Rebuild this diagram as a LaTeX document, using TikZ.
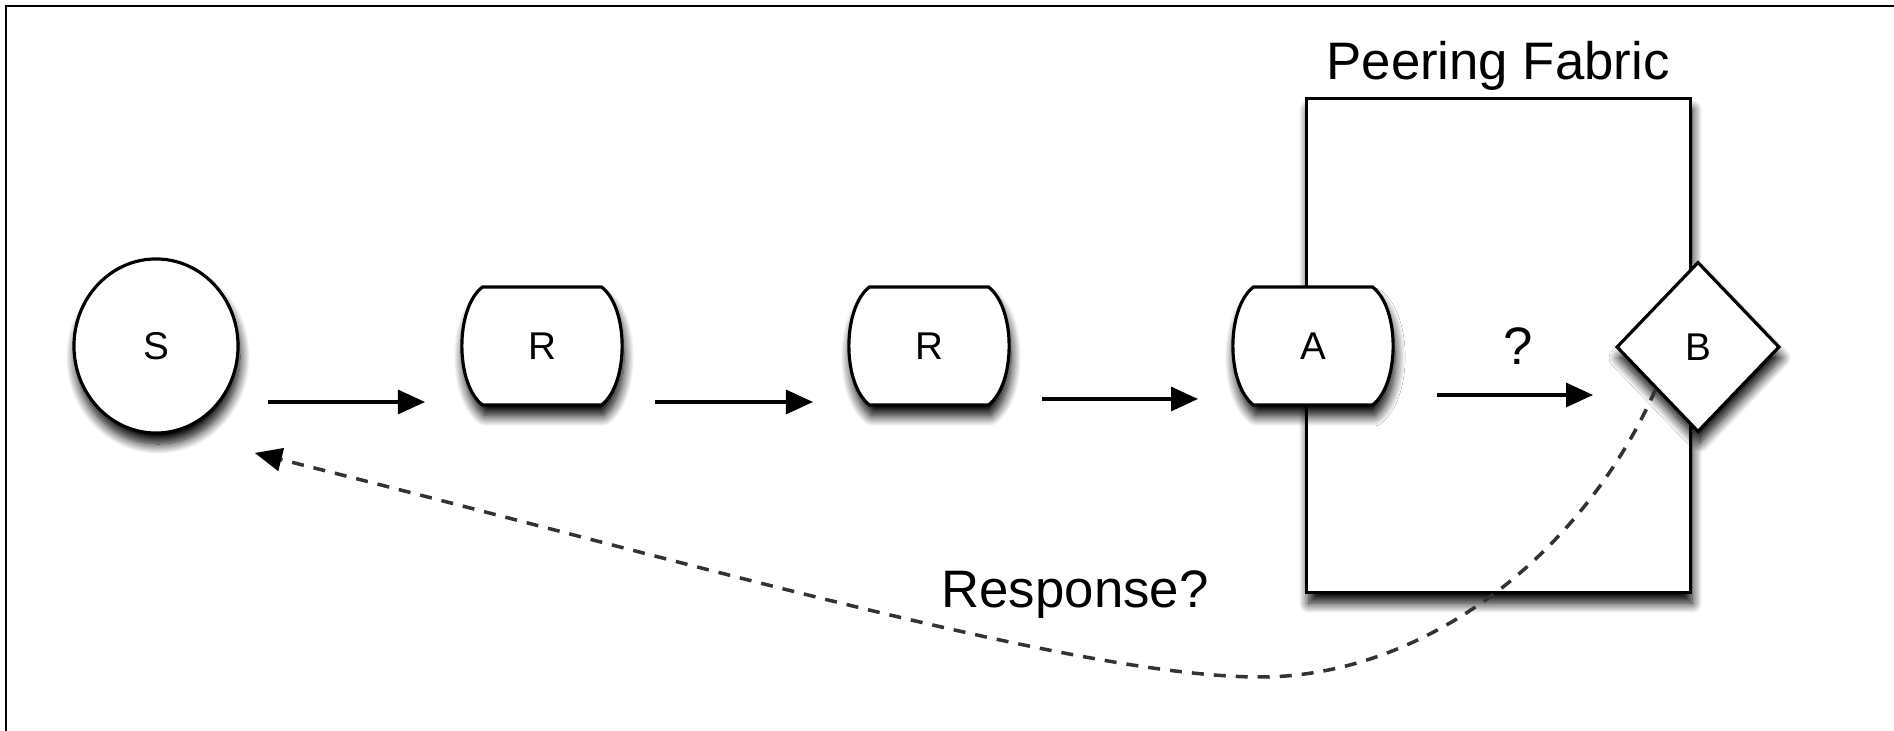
\documentclass[tikz,border=0pt]{standalone}
\usepackage{fontspec}
\setmainfont{Liberation Sans}
\usetikzlibrary{arrows.meta,shapes.geometric,shadows.blur}
\tikzset{
  shp/.style={draw=black, line width=0.9pt, fill=white,
    blur shadow={shadow xshift=0.02cm, shadow yshift=-0.11cm, shadow blur radius=0.1cm, shadow opacity=100, shadow blur steps=12}},
  lbl/.style={font=\fontsize{11}{13}\selectfont, inner sep=0pt},
  bigtxt/.style={font=\fontsize{15}{18}\selectfont, inner sep=0pt},
  flow/.style={line width=0.9pt, black, -{Triangle[length=0.27cm,width=0.24cm,fill=black]}},
  resp/.style={line width=1pt, black!80, dash pattern=on 0.12cm off 0.10cm,
    -{Triangle[length=0.27cm,width=0.24cm,black,line width=0pt]}},
  frameline/.style={line width=0.8pt, black}
}
\newcommand\routerbox[4]{%
  \path[shp] (#2-59.5,#3+59) -- (#2+59.5,#3+59)
    .. controls (#2+87,#3+38) and (#2+87,#3-38) .. (#2+59.5,#3-59)
    -- (#2-59.5,#3-59)
    .. controls (#2-87,#3-38) and (#2-87,#3+38) .. (#2-59.5,#3+59) -- cycle;
  \node[lbl, minimum width=1.61cm, minimum height=1.18cm] (#1) at (#2,#3) {#4};}
\begin{document}
\begin{tikzpicture}[x=0.01cm,y=0.01cm]
\useasboundingbox (0,0) rectangle (1894,731);
% outer frame (only left and top edges visible)
\coordinate (fbl) at (6,0);
\coordinate (ftl) at (6,725);
\coordinate (ftr) at (1894,725);
\draw[frameline] (fbl) -- (ftl) -- (ftr);
% peering fabric
\node[shp, draw, minimum width=3.83cm, minimum height=4.93cm, inner sep=0pt] (pf) at (1498.5,385.5) {};
\node[bigtxt, anchor=base] (pflbl) at (1498,651) {Peering Fabric};
% nodes
\node[shp, ellipse, minimum width=1.64cm, minimum height=1.74cm, inner sep=0pt, lbl] (S) at (156,385) {S};
\routerbox{r1}{542}{385}{R}
\routerbox{r2}{929}{385}{R}
\routerbox{A}{1313}{385}{A}
\node[shp, diamond, minimum width=1.63cm, minimum height=1.70cm, inner sep=0pt, lbl] (B) at (1698,384) {B};
% flow arrows
\coordinate (a1s) at (268,329); \coordinate (a1e) at (425,329);
\coordinate (a2s) at (655,329); \coordinate (a2e) at (813,329);
\coordinate (a3s) at (1042,332); \coordinate (a3e) at (1198,332);
\coordinate (a4s) at (1437,336); \coordinate (a4e) at (1593,336);
\draw[flow] (a1s) -- (a1e);
\draw[flow] (a2s) -- (a2e);
\draw[flow] (a3s) -- (a3e);
\draw[flow] (a4s) -- (a4e);
\node[bigtxt] (q) at (1518,385) {?};
% response
\coordinate (ret) at (255,278);
\draw[resp] (B.225) .. controls (1580,171) and (1420,54) .. (1260,54)
  .. controls (1080,54) and (700,166) .. (ret);
\node[bigtxt, anchor=base] (rlbl) at (1075,123) {Response?};
\end{tikzpicture}
\end{document}
